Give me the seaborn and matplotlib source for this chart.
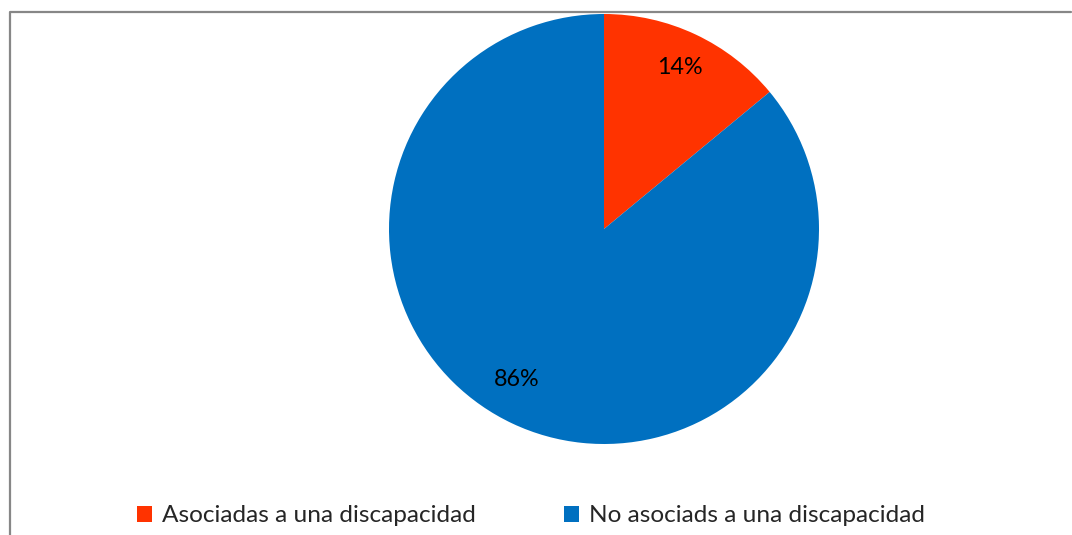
import matplotlib
matplotlib.use("Agg")
import matplotlib.pyplot as plt
import seaborn as sns
import numpy as np
from matplotlib.patches import Patch
from matplotlib.lines import Line2D

categories = ["Asociadas a una discapacidad", "No asociads a una discapacidad"]
values = [14, 86]
colors = ["#FF3300", "#0070C0"]

sns.set_style("white")
plt.rcParams["font.family"] = ["Lato", "DejaVu Sans"]

W, H = 1072, 535
fig = plt.figure(figsize=(W / 100, H / 100), dpi=100)
fig.patch.set_facecolor("white")

cx, cy, r = 604, 229, 215
ax = fig.add_axes([(cx - r) / W, (H - cy - r) / H, 2 * r / W, 2 * r / H])
wedges, texts, autotexts = ax.pie(
    values, colors=colors, startangle=90, counterclock=False,
    autopct=lambda p: f"{p:.0f}%", pctdistance=0.83,
    textprops=dict(fontsize=16.8, color="#000000"),
    wedgeprops=dict(linewidth=0),
)
# Excel "best fit" places the large slice's label lower
ang = np.deg2rad(240)
autotexts[1].set_position((0.81 * np.cos(ang), 0.81 * np.sin(ang)))
ax.set_aspect("equal")
ax.set_xlim(-1, 1)
ax.set_ylim(-1, 1)

# chart frame (top and left edges visible)
fig.add_artist(Line2D([10 / W, 10 / W, 1071 / W], [0, 1 - 12 / H, 1 - 12 / H],
                      transform=fig.transFigure, color="#878787", linewidth=1.6))

fs = 17.6
fpx = fs * 100 / 72
handles = [Patch(facecolor=c, edgecolor="none") for c in colors]
leg = fig.legend(handles, categories, ncol=2, loc="center left",
                 bbox_to_anchor=(137 / W, 1 - 516 / H), frameon=False,
                 fontsize=fs, handlelength=15 / fpx, handleheight=15 / fpx,
                 handletextpad=10 / fpx, columnspacing=88 / fpx,
                 borderpad=0, borderaxespad=0)

fig.savefig("out.png", dpi=100)
